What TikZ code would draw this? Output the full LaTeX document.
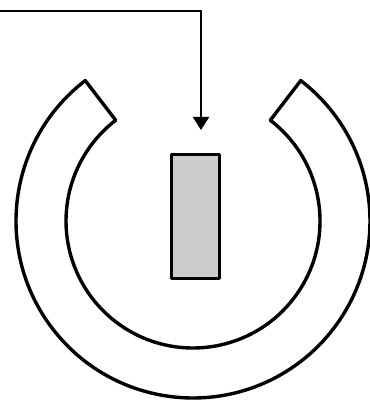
\documentclass[tikz,border=0pt]{standalone}
\usepackage{xcolor}
\usepackage{tikz}
\usetikzlibrary{
  arrows.meta,
  positioning,
  calc
}
\definecolor{inkline}{HTML}{000000}
\definecolor{barfill}{HTML}{CCCCCC}
\tikzset{
  ringline/.style={
    draw=inkline, line width=3.4pt, line join=round, fill=white
  },
  barbox/.style={
    rectangle, draw=inkline, fill=barfill, line width=3.6pt, line join=round,
    minimum width=48pt, minimum height=124pt, inner sep=0pt
  },
  feedarrow/.style={
    -{Triangle[width=16pt,length=13pt]}, line width=2.2pt, color=inkline
  },
}

\begin{document}
\begin{tikzpicture}[x=1pt, y=1pt]

  \useasboundingbox (0,0) rectangle (369,401);

  %% ── Ring ──────────────────────────────────────────────────────────────────
  \coordinate (hub) at (193,180);
  \draw[ringline]
    ([shift={(127.5:177)}]hub) arc[start angle=127.5, end angle=412.5, radius=177]
    -- ([shift={(52.5:127)}]hub) arc[start angle=52.5, end angle=-232.5, radius=127]
    -- cycle;

  %% ── Bar ───────────────────────────────────────────────────────────────────
  \node[barbox] (bar) at (195.5,184.5) {};

  %% ── Feed ──────────────────────────────────────────────────────────────────
  \coordinate (feed) at (0,390);
  \coordinate (drop) at (201,271);
  \draw[feedarrow] (feed) -| (drop);

\end{tikzpicture}
\end{document}
